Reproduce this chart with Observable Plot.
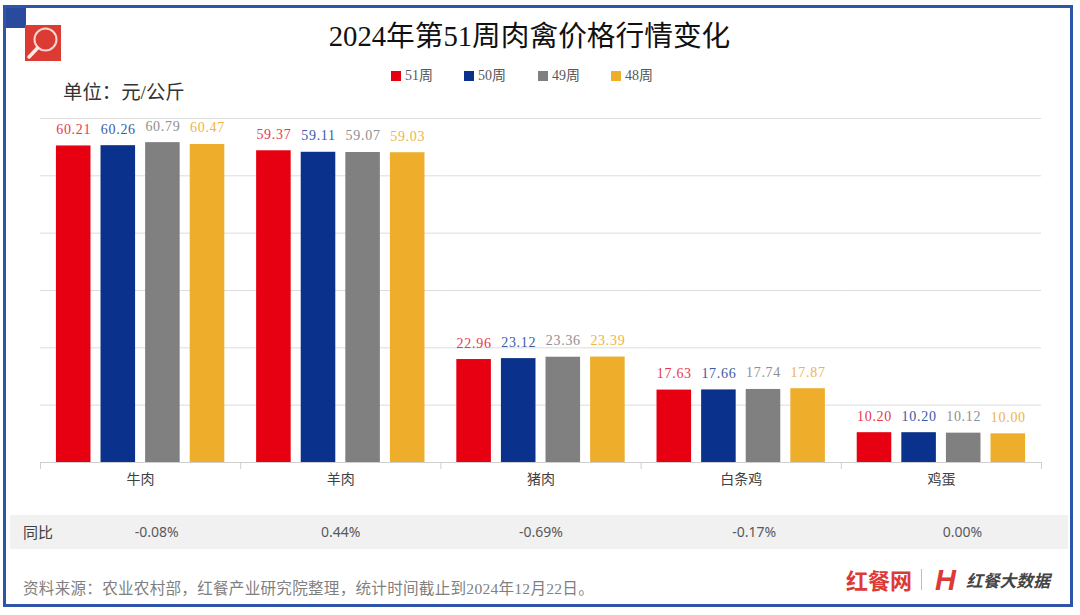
<!DOCTYPE html>
<html><head><meta charset="utf-8">
<script src="https://cdn.jsdelivr.net/npm/d3@7"></script>
<script src="https://cdn.jsdelivr.net/npm/@observablehq/plot@0.6"></script>
<style>
html,body{margin:0;padding:0;background:#fff;}
#page{position:relative;width:1080px;height:615px;overflow:hidden;background:#fff;font-family:"Liberation Serif","Noto Sans CJK SC",serif;}
#page>div,#page>svg.deco{position:absolute;white-space:nowrap;}
#chart{left:0;top:0;}
#chart svg{background:transparent;display:block;}
.val text{letter-spacing:.7px;}
</style></head><body>
<div id="page">
  <div style="left:3px;top:5px;width:1064px;height:596px;border:3px solid #2f55a8;"></div>
  <div style="left:6px;top:8px;width:20px;height:20px;background:#2a4a9e;"></div>
  <svg class="deco" style="left:25px;top:25px" width="36" height="36" viewBox="0 0 36 36">
    <rect width="36" height="36" fill="#dc3b33"/>
    <circle cx="20.5" cy="14.5" r="11" fill="none" stroke="#f6d5d0" stroke-width="2"/>
    <line x1="12.5" y1="23" x2="4" y2="32" stroke="#fbeeea" stroke-width="3.5" stroke-linecap="round"/>
  </svg>
  <div style="left:0;width:1059px;top:18px;text-align:center;font-size:28.7px;line-height:36px;color:#111;">2024年第51周肉禽价格行情变化</div>
  <div style="left:63px;top:81px;font-size:19.4px;line-height:24px;color:#333;">单位：元/公斤</div>
  <div style="left:10px;top:515px;width:1058px;height:34px;background:#f1f1f1;"></div>
  <div style="left:23px;top:522px;font-size:15px;line-height:20px;color:#404040;font-family:'Noto Sans CJK SC',sans-serif;">同比</div>
  <div id="legend" style="left:0;top:0"></div>
  <div id="chart"></div>
  <div style="left:23px;top:578px;font-size:15.6px;letter-spacing:.24px;line-height:22px;color:#7f7f7f;">资料来源：农业农村部，红餐产业研究院整理，统计时间截止到2024年12月22日。</div>
  <div style="left:846px;top:563px;font-size:22px;line-height:32px;font-weight:700;color:#dd3a35;font-family:'Noto Sans CJK SC',sans-serif;">红餐网</div>
  <div style="left:921px;top:569px;width:1px;height:21px;background:#bdbdbd;"></div>
  <div style="left:935px;top:564px;font-size:29px;line-height:32px;font-weight:700;font-style:italic;color:#dd3a35;font-family:'Liberation Sans',sans-serif;">H</div>
  <div style="left:966px;top:567px;font-size:16.8px;line-height:26px;font-weight:700;font-style:italic;color:#444;font-family:'Noto Sans CJK SC',sans-serif;">红餐大数据</div>
</div>
<script>
const categories = ["牛肉", "羊肉", "猪肉", "白条鸡", "鸡蛋"];
const weeks = ["51周", "50周", "49周", "48周"];
const week51 = [60.21, 59.37, 22.96, 17.63, 10.20];
const week50 = [60.26, 59.11, 23.12, 17.66, 10.20];
const week49 = [60.79, 59.07, 23.36, 17.74, 10.12];
const week48 = [60.47, 59.03, 23.39, 17.87, 10.00];
const yoy = ["-0.08%", "0.44%", "-0.69%", "-0.17%", "0.00%"];
const colors = ["#e60012", "#0a318c", "#808080", "#eeae2c"];
const labelColors = ["#e8384a", "#3a5aa5", "#8f8f8f", "#f0b445"];
const yTicks = [5, 15, 25, 35, 45, 55, 65];

const seriesValues = [week51, week50, week49, week48];
const rows = categories.flatMap((c, i) => weeks.map((w, j) => ({cat: c, week: w, value: seriesValues[j][i]})));
const yoyRows = categories.map((c, i) => ({cat: c, text: yoy[i]}));
const yoyMark = (i, dx) => Plot.text([yoyRows[i]], {fx: "cat", text: "text", frameAnchor: "bottom", lineAnchor: "middle",
  dy: 70, dx, fontSize: 14, fill: "#595959", fontFamily: '"Noto Sans","Noto Sans CJK SC",sans-serif'});

const plot = Plot.plot({
  width: 1080, height: 615,
  marginLeft: 40, marginRight: 39, marginTop: 118, marginBottom: 153,
  style: {background: "transparent", fontFamily: '"Liberation Serif","Noto Sans CJK SC",serif'},
  fx: {domain: categories, padding: 0, label: null, round: false},
  x: {domain: weeks, paddingInner: 0.225, paddingOuter: 0.357, round: false, axis: null},
  y: {domain: [5, 65], axis: null},
  color: {domain: weeks, range: colors},
  marks: [
    Plot.ruleY(yTicks.slice(1), {stroke: "#dcdcdc", strokeWidth: 1}),
    Plot.barY(rows, {fx: "cat", x: "week", y1: 5, y2: "value", fill: "week"}),
    Plot.ruleY([5], {stroke: "#cfcfcf", strokeWidth: 1}),
    Plot.frame({anchor: "left", insetTop: 344, insetBottom: -6, stroke: "#cfcfcf"}),
    Plot.frame({anchor: "right", facetAnchor: "right", insetTop: 344, insetBottom: -6, stroke: "#cfcfcf"}),
    Plot.text(rows, {
      fx: "cat", x: "week", y: "value", text: d => d.value.toFixed(2),
      lineAnchor: "bottom", dy: -12, fontSize: 14,
      fill: d => labelColors[weeks.indexOf(d.week)], className: "val"
    }),
    Plot.axisFx({anchor: "bottom", tickSize: 0, tickPadding: 12, fontSize: 14, label: null, fill: "#404040",
      fontFamily: '"Noto Sans CJK SC",sans-serif'}),
    yoyMark(0, 16), yoyMark(1, 0), yoyMark(2, 0), yoyMark(3, 13), yoyMark(4, 21)
  ]
});
document.getElementById("chart").appendChild(plot);

const legendXs = [391, 464, 538, 611];
const legend = document.getElementById("legend");
weeks.forEach((w, i) => {
  const s = document.createElement("div");
  s.style.cssText = `position:absolute;left:${legendXs[i]}px;top:71px;width:10px;height:10px;background:${colors[i]}`;
  const t = document.createElement("div");
  t.textContent = w;
  t.style.cssText = `position:absolute;left:${legendXs[i] + 14}px;top:67px;font-size:14px;line-height:18px;color:#595959;white-space:nowrap`;
  legend.append(s, t);
});
</script>
</body></html>
